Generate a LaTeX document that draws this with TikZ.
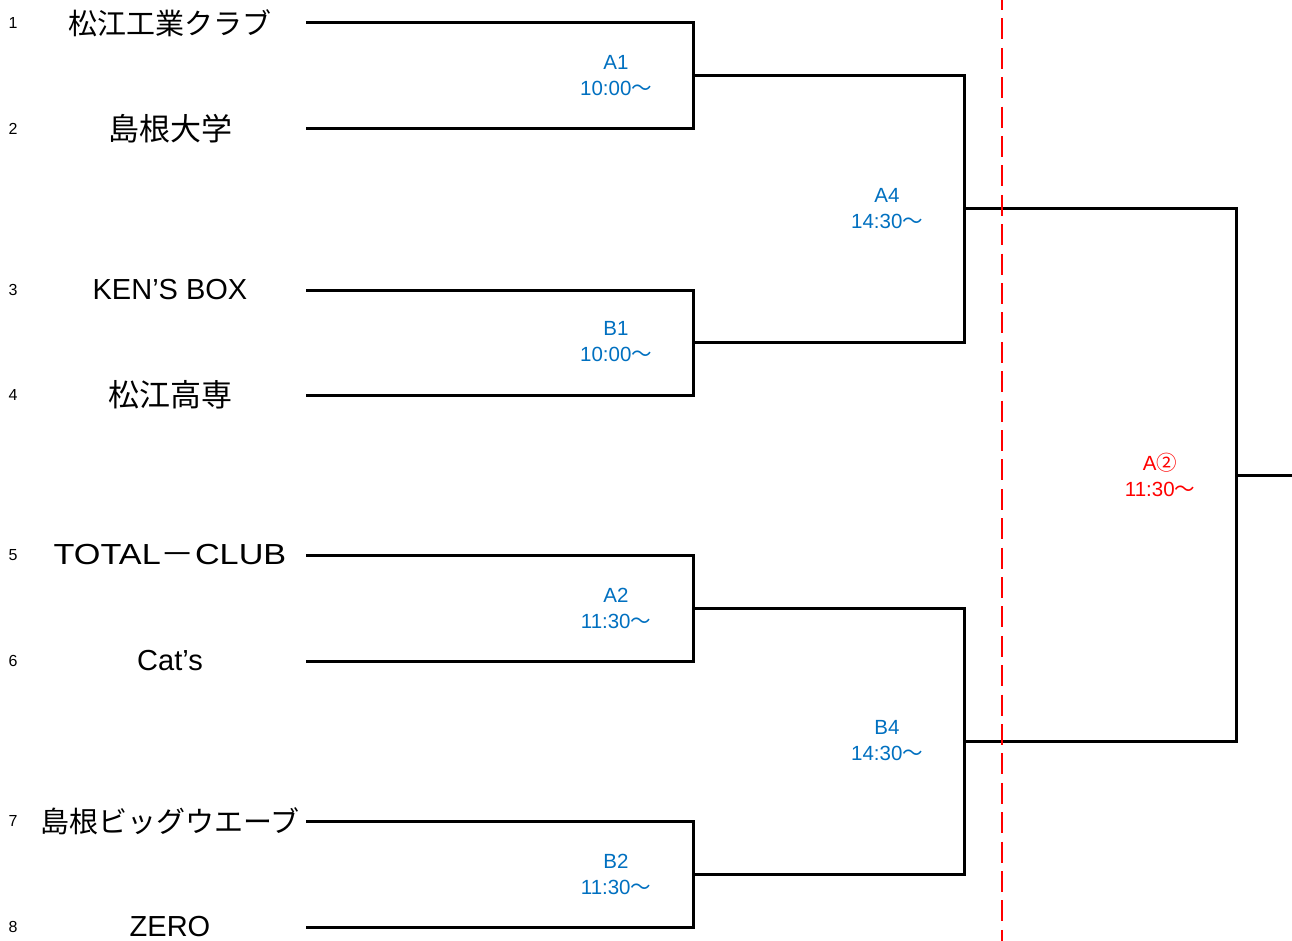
\documentclass[tikz,border=0pt]{standalone}
\usepackage{fontspec}
\setmainfont{Liberation Sans}
\newfontfamily\jp{Noto Sans CJK JP}
\definecolor{lblue}{RGB}{0,112,192}
\definecolor{dred}{RGB}{255,0,0}
\begin{document}
\begin{tikzpicture}[x=1pt,y=-1pt,
  bracket/.style={line width=3pt, line join=miter, black},
  team/.style={font=\fontsize{29}{30}\selectfont, inner sep=0pt},
  kteam/.style={font=\fontsize{31}{32}\selectfont, inner sep=0pt},
  num/.style={font=\fontsize{16}{18}\selectfont, inner sep=0pt},
  lbl/.style={font=\fontsize{20.5}{26}\selectfont, text=lblue, align=center, inner sep=0pt},
  rlbl/.style={lbl, text=dred},
  divider/.style={dred, line width=2pt, dash pattern=on 21pt off 8.4pt, dash phase=11pt}]
\useasboundingbox (0,0) rectangle (1292,941);
\fill[white] (0,0) rectangle (1292,941);
% team rows
\foreach \i/\y in {1/23,2/129,3/290,4/395,5/555,6/661,7/821,8/927}{
  \coordinate (s\i) at (306,\y);
  \coordinate (e\i) at (693,\y);
  \node[num] (n\i) at (13,\y) {\i};
}
\node[team] (t1) at (170,23) {\jp 松江工業クラブ};
\node[kteam] (t2) at (170,129) {\jp 島根大学};
\node[team] (t3) at (170,290) {KEN’S BOX};
\node[kteam] (t4) at (170,395) {\jp 松江高専};
\node[team] (t5) at (170,555) {\scalebox{1.18}[1]{TOTAL{\jp －}CLUB}};
\node[team] (t6) at (170,661) {Cat’s};
\node[team] (t7) at (170,821) {\jp 島根ビッグウエーブ};
\node[team] (t8) at (170,927) {ZERO};
% first round
\coordinate (mA1) at (693,76);  \coordinate (xA1) at (964,76);
\coordinate (mB1) at (693,342); \coordinate (xB1) at (964,342);
\coordinate (mA2) at (693,608); \coordinate (xA2) at (964,608);
\coordinate (mB2) at (693,874); \coordinate (xB2) at (964,874);
\draw[bracket] (s1) -- (e1) -- (e2) -- (s2);
\draw[bracket] (s3) -- (e3) -- (e4) -- (s4);
\draw[bracket] (s5) -- (e5) -- (e6) -- (s6);
\draw[bracket] (s7) -- (e7) -- (e8) -- (s8);
\draw[bracket] (mA1) -- (xA1) -- (xB1) -- (mB1);
\draw[bracket] (mA2) -- (xA2) -- (xB2) -- (mB2);
% second round
\coordinate (mA4) at (964,209); \coordinate (xA4) at (1236,209);
\coordinate (mB4) at (964,741); \coordinate (xB4) at (1236,741);
\coordinate (mF) at (1236,475); \coordinate (xF) at (1292,475);
\draw[bracket] (mA4) -- (xA4) -- (xB4) -- (mB4);
\draw[bracket] (mF) -- (xF);
% labels
\node[lbl] (lA1) at (616,76) {A1\\10:00{\jp ～}};
\node[lbl] (lB1) at (616,342) {B1\\10:00{\jp ～}};
\node[lbl] (lA2) at (616,608) {A2\\11:30{\jp ～}};
\node[lbl] (lB2) at (616,874) {B2\\11:30{\jp ～}};
\node[lbl] (lA4) at (887,209) {A4\\14:30{\jp ～}};
\node[lbl] (lB4) at (887,741) {B4\\14:30{\jp ～}};
\node[rlbl] (lF) at (1160,475) {A{\jp ②}\\11:30{\jp ～}};
% divider
\coordinate (dTop) at (1002,0);
\coordinate (dBot) at (1002,941);
\draw[divider] (dTop) -- (dBot);
\end{tikzpicture}
\end{document}
